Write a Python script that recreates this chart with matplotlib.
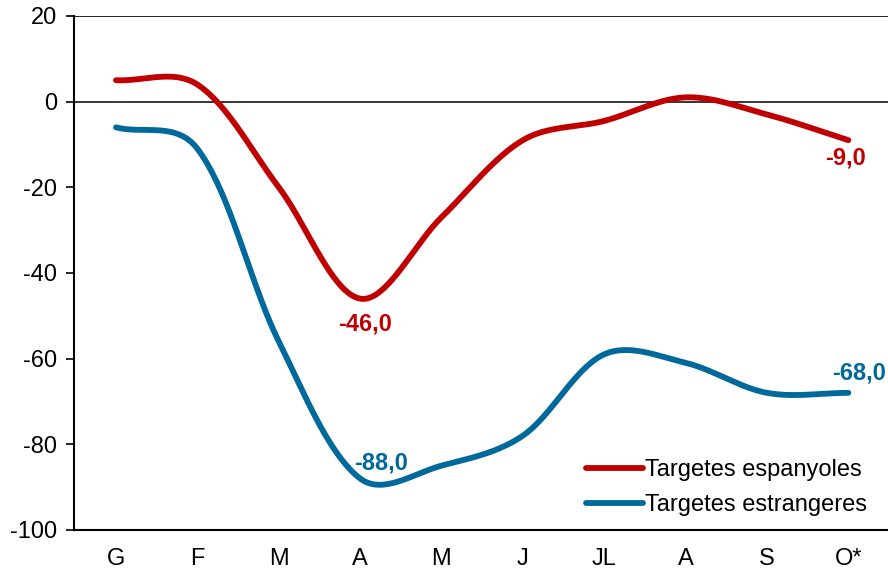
import numpy as np
import matplotlib
matplotlib.use("Agg")
import matplotlib.pyplot as plt

plt.rcParams["font.family"] = ["Liberation Sans", "DejaVu Sans"]
plt.rcParams["axes.unicode_minus"] = False

months = ["G", "F", "M", "A", "M", "J", "JL", "A", "S", "O*"]
espanyoles = [5, 4, -20, -46, -27, -9, -4.5, 1, -3, -9]
estrangeres = [-6, -11, -56, -88, -85, -78, -59, -61, -68, -68]

RED = "#C00000"
BLUE = "#00699B"
FS = 17


def smooth(y, yscale=0.0527, n=40):
    """Bezier smoothing like Excel: tangents weighted by segment lengths (screen space)."""
    P = np.column_stack([np.arange(len(y), dtype=float), np.asarray(y, float) * yscale])
    m = len(P)
    d = np.sqrt(np.hypot(*np.diff(P, axis=0).T))
    out_c, in_c = [], []
    for i in range(m):
        if i == 0:
            T, fa, fb = P[1] - P[0], 0, 1 / 3
        elif i == m - 1:
            T, fa, fb = P[-1] - P[-2], 1 / 3, 0
        else:
            T = P[i + 1] - P[i - 1]
            s = d[i - 1] + d[i]
            fa, fb = d[i - 1] / s / 3, d[i] / s / 3
        in_c.append(P[i] - T * fa)
        out_c.append(P[i] + T * fb)
    t = np.linspace(0, 1, n)[:, None]
    pts = []
    for i in range(m - 1):
        b = ((1 - t) ** 3 * P[i] + 3 * (1 - t) ** 2 * t * out_c[i]
             + 3 * (1 - t) * t ** 2 * in_c[i + 1] + t ** 3 * P[i + 1])
        pts.append(b if i == 0 else b[1:])
    pts = np.vstack(pts)
    return pts[:, 0], pts[:, 1] / yscale


fig = plt.figure(figsize=(8.88, 5.71), dpi=100)
ax = fig.add_axes([0.083, 0.072, 0.92, 0.9])

ax.axhline(0, color="black", linewidth=1.1, zorder=1)
ax.axhline(20, color="black", linewidth=1.2, zorder=1)

xr, yr = smooth(espanyoles)
xb, yb = smooth(estrangeres)
ax.plot(xr, yr, color=RED, linewidth=4.2, solid_capstyle="round",
        label="Targetes espanyoles", zorder=3)
ax.plot(xb, yb, color=BLUE, linewidth=4.2, solid_capstyle="round",
        label="Targetes estrangeres", zorder=3)

lbl = dict(fontsize=FS, fontweight="bold", ha="center", va="center",
           textcoords="offset points", annotation_clip=False)
ax.annotate("-46,0", (3, espanyoles[3]), xytext=(3.6, -18), color=RED, **lbl)
ax.annotate("-9,0", (9, espanyoles[9]), xytext=(-2, -12.5), color=RED, **lbl)
ax.annotate("-88,0", (3, estrangeres[3]), xytext=(15, 11.5), color=BLUE, **lbl)
ax.annotate("-68,0", (9, estrangeres[9]), xytext=(8, 14.4), color=BLUE, **lbl)

ax.set_xlim(-0.52, 9.52)
ax.set_ylim(-100, 20)
ax.set_yticks(range(-100, 21, 20))
ax.set_xticks(range(len(months)))
ax.set_xticklabels(months)
ax.tick_params(axis="y", labelsize=FS, length=6, width=1.2, direction="out", pad=6)
ax.tick_params(axis="x", labelsize=FS, length=0, pad=13)

for side in ("top", "right"):
    ax.spines[side].set_visible(False)
ax.spines["left"].set_linewidth(1.5)
ax.spines["bottom"].set_linewidth(1.5)

ax.legend(loc="lower right", bbox_to_anchor=(0.997, -0.015), frameon=False, fontsize=FS,
          handlelength=2.4, handletextpad=0.1, labelspacing=0.55, borderpad=0.4)

fig.savefig("out.png", dpi=100)
